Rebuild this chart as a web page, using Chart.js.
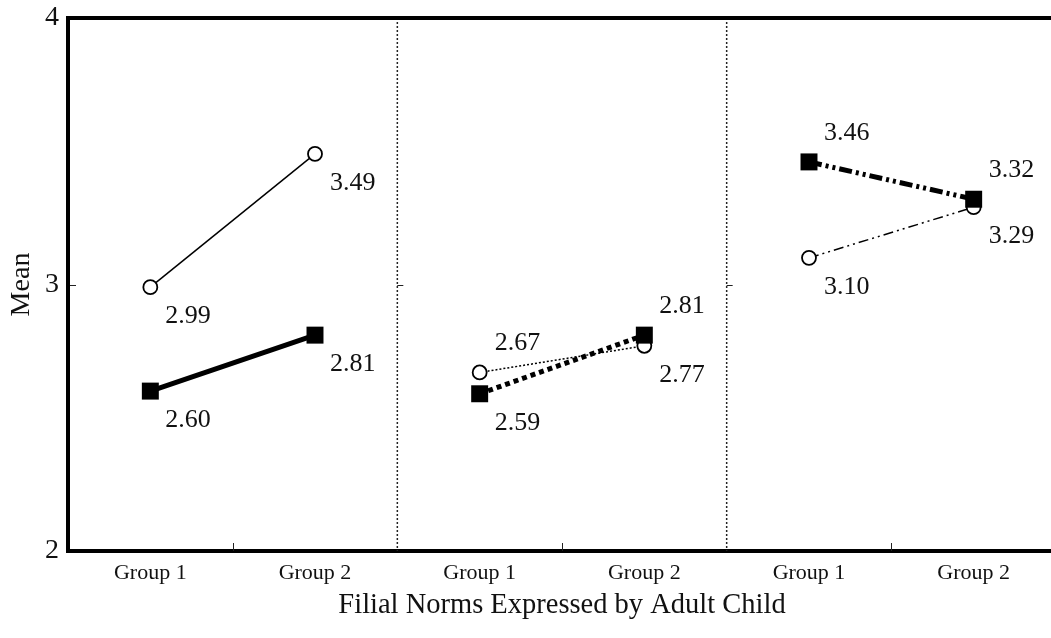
<!DOCTYPE html>
<html>
<head>
<meta charset="utf-8">
<title>Filial Norms</title>
<script src="https://cdn.jsdelivr.net/npm/chart.js@4.4.1/dist/chart.umd.min.js"></script>
<style>
  html, body { margin: 0; padding: 0; background: #fff; overflow: hidden; }
  canvas { display: block; }
</style>
</head>
<body>
<canvas id="meanChart" width="1068" height="638"></canvas>
<script>
// tick labels along the bottom, two groups for each of three panels
const xLabels = ["Group 1", "Group 2", "Group 1", "Group 2", "Group 1", "Group 2"];
const yTicks = [2, 3, 4];

// means per panel: [Group 1, Group 2]
const openMeans = [[2.99, 3.49], [2.67, 2.77], [3.10, 3.29]];
const filledMeans = [[2.60, 2.81], [2.59, 2.81], [3.46, 3.32]];

// where the value label sits relative to its point (1 = below, -1 = above)
const openLabelSide = [[1, 1], [-1, 1], [1, 1]];
const filledLabelSide = [[1, 1], [1, -1], [-1, -1]];

const serif = '"Liberation Serif", "Times New Roman", serif';

const openDash = [[], [2, 2], [10, 4, 2, 4, 2, 4]];
const filledDash = [[], [5, 4], [13, 4, 3, 4, 3, 4]];

function toPoints(pair, panel) {
    return pair.map((v, i) => ({ x: panel * 2 + i + 0.5, y: v }));
}

const datasets = [];
filledMeans.forEach((pair, p) => {
    datasets.push({
        data: toPoints(pair, p),
        sides: filledLabelSide[p],
        borderColor: "#000",
        borderWidth: 5,
        borderDash: filledDash[p],
        pointStyle: "rect",
        pointRadius: 12,
        pointBackgroundColor: "#000",
        pointBorderColor: "#000",
        pointBorderWidth: 0
    });
});
openMeans.forEach((pair, p) => {
    datasets.push({
        data: toPoints(pair, p),
        sides: openLabelSide[p],
        borderColor: "#000",
        borderWidth: 1.5,
        borderDash: openDash[p],
        pointStyle: "circle",
        pointRadius: 7,
        pointBackgroundColor: "#fff",
        pointBorderColor: "#000",
        pointBorderWidth: 1.8
    });
});

const framePlugin = {
    id: "frame",
    beforeDatasetsDraw(chart) {
        const { ctx, chartArea } = chart;
        const x = chart.scales.x, y = chart.scales.y;
        ctx.save();
        ctx.strokeStyle = "#222";
        // dotted panel separators
        ctx.lineWidth = 1.5;
        ctx.setLineDash([2, 2]);
        [2, 4].forEach(v => {
            const px = x.getPixelForValue(v);
            ctx.beginPath();
            ctx.moveTo(px, chartArea.top);
            ctx.lineTo(px, chartArea.bottom);
            ctx.stroke();
        });
        ctx.setLineDash([]);
        ctx.lineWidth = 1;
        // small inner ticks between groups
        [1, 3, 5].forEach(v => {
            const px = Math.round(x.getPixelForValue(v)) + 0.5;
            ctx.beginPath();
            ctx.moveTo(px, chartArea.bottom);
            ctx.lineTo(px, chartArea.bottom - 8);
            ctx.stroke();
        });
        // small ticks at the middle y value on each panel edge
        const py = Math.round(y.getPixelForValue(yTicks[1])) + 0.5;
        [0, 2, 4].forEach(v => {
            const px = v === 0 ? chartArea.left + 2 : x.getPixelForValue(v);
            ctx.beginPath();
            ctx.moveTo(px, py);
            ctx.lineTo(px + 6, py);
            ctx.stroke();
        });
        ctx.restore();
    },
    afterDatasetsDraw(chart) {
        const { ctx } = chart;
        ctx.save();
        ctx.fillStyle = "#111";
        ctx.font = "26px " + serif;
        ctx.textAlign = "left";
        ctx.textBaseline = "middle";
        chart.data.datasets.forEach((ds, i) => {
            const meta = chart.getDatasetMeta(i);
            meta.data.forEach((pt, j) => {
                const side = ds.sides[j];
                ctx.fillText(ds.data[j].y.toFixed(2), pt.x + 15, pt.y + side * 29);
            });
        });
        ctx.restore();
    },
    afterDraw(chart) {
        const { ctx, chartArea } = chart;
        ctx.save();
        ctx.strokeStyle = "#000";
        ctx.lineWidth = 4;
        ctx.beginPath();
        ctx.moveTo(chartArea.left - 2, chartArea.top);
        ctx.lineTo(chartArea.right + 2, chartArea.top);
        ctx.stroke();
        ctx.restore();
    }
};

new Chart(document.getElementById("meanChart"), {
    type: "line",
    data: { datasets: datasets },
    plugins: [framePlugin],
    options: {
        responsive: false,
        animation: false,
        layout: { padding: { top: 18, left: 0, right: 0, bottom: 0 } },
        plugins: {
            legend: { display: false },
            tooltip: { enabled: false }
        },
        scales: {
            x: {
                type: "linear",
                min: 0,
                max: xLabels.length,
                grid: { display: false, drawTicks: false },
                border: { display: true, color: "#000", width: 4 },
                afterBuildTicks(scale) {
                    scale.ticks = xLabels.map((l, i) => ({ value: i + 0.5 }));
                },
                afterFit(scale) { scale.height = 87; },
                ticks: {
                    autoSkip: false,
                    maxRotation: 0,
                    padding: 9,
                    color: "#111",
                    font: { family: serif, size: 22 },
                    callback: (v, i) => xLabels[i]
                },
                title: {
                    display: true,
                    text: "Filial Norms Expressed by Adult Child",
                    color: "#111",
                    font: { family: serif, size: 28.5 },
                    padding: { top: 0, bottom: 15 }
                }
            },
            y: {
                min: yTicks[0],
                max: yTicks[yTicks.length - 1],
                grid: { display: false, drawTicks: false },
                border: { display: true, color: "#000", width: 4 },
                afterBuildTicks(scale) {
                    scale.ticks = yTicks.map(v => ({ value: v }));
                },
                afterFit(scale) {
                    scale.width = 68;
                    scale.paddingTop = 0;
                    scale.paddingBottom = 0;
                },
                ticks: {
                    padding: 9,
                    color: "#111",
                    font: { family: serif, size: 28 }
                },
                title: {
                    display: true,
                    text: "Mean",
                    color: "#111",
                    font: { family: serif, size: 28 },
                    padding: { top: 5, bottom: 0 }
                }
            }
        }
    }
});
</script>
</body>
</html>
